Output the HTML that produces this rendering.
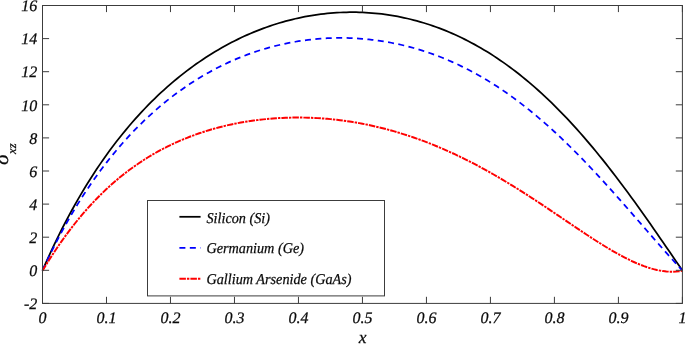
<!DOCTYPE html>
<html><head><meta charset="utf-8"><style>
html,body{margin:0;padding:0;background:#fff;}
svg{display:block}
text{font-family:"Liberation Serif",serif;font-style:italic;font-size:15px;fill:#0a0a0a;stroke:#0a0a0a;stroke-width:0.25px;text-rendering:geometricPrecision}
</style></head><body>
<svg width="685" height="344" viewBox="0 0 685 344">
<rect width="685" height="344" fill="#fff"/>
<g fill="none" stroke-linejoin="round">
<path d="M42.50,270.30 L45.70,263.00 L48.90,255.90 L52.10,248.98 L55.30,242.24 L58.50,235.67 L61.70,229.27 L64.90,223.04 L68.10,216.96 L71.30,211.04 L74.50,205.27 L77.69,199.64 L80.89,194.15 L84.09,188.79 L87.29,183.57 L90.49,178.48 L93.69,173.50 L96.89,168.65 L100.09,163.92 L103.29,159.30 L106.49,154.79 L109.69,150.39 L112.89,146.09 L116.09,141.89 L119.29,137.80 L122.49,133.80 L125.69,129.89 L128.89,126.07 L132.09,122.35 L135.29,118.71 L138.49,115.16 L141.68,111.69 L144.88,108.30 L148.08,104.99 L151.28,101.76 L154.48,98.61 L157.68,95.53 L160.88,92.52 L164.08,89.59 L167.28,86.72 L170.48,83.93 L173.68,81.20 L176.88,78.53 L180.08,75.94 L183.28,73.40 L186.48,70.93 L189.68,68.52 L192.88,66.17 L196.08,63.88 L199.28,61.65 L202.47,59.48 L205.67,57.36 L208.87,55.30 L212.07,53.29 L215.27,51.34 L218.47,49.44 L221.67,47.60 L224.87,45.81 L228.07,44.07 L231.27,42.38 L234.47,40.74 L237.67,39.15 L240.87,37.61 L244.07,36.12 L247.27,34.68 L250.47,33.29 L253.67,31.94 L256.87,30.64 L260.07,29.39 L263.27,28.18 L266.47,27.02 L269.66,25.90 L272.86,24.83 L276.06,23.80 L279.26,22.82 L282.46,21.88 L285.66,20.99 L288.86,20.14 L292.06,19.33 L295.26,18.57 L298.46,17.84 L301.66,17.17 L304.86,16.53 L308.06,15.94 L311.26,15.38 L314.46,14.87 L317.66,14.41 L320.86,13.98 L324.06,13.60 L327.26,13.25 L330.45,12.95 L333.65,12.69 L336.85,12.47 L340.05,12.30 L343.25,12.16 L346.45,12.07 L349.65,12.02 L352.85,12.01 L356.05,12.04 L359.25,12.11 L362.45,12.22 L365.65,12.38 L368.85,12.58 L372.05,12.82 L375.25,13.10 L378.45,13.43 L381.65,13.79 L384.85,14.21 L388.05,14.66 L391.25,15.16 L394.44,15.70 L397.64,16.28 L400.84,16.91 L404.04,17.58 L407.24,18.29 L410.44,19.06 L413.64,19.86 L416.84,20.71 L420.04,21.61 L423.24,22.55 L426.44,23.54 L429.64,24.58 L432.84,25.66 L436.04,26.79 L439.24,27.97 L442.44,29.19 L445.64,30.47 L448.84,31.79 L452.04,33.17 L455.24,34.59 L458.44,36.06 L461.63,37.58 L464.83,39.16 L468.03,40.78 L471.23,42.46 L474.43,44.19 L477.63,45.97 L480.83,47.81 L484.03,49.69 L487.23,51.64 L490.43,53.63 L493.63,55.68 L496.83,57.79 L500.03,59.95 L503.23,62.16 L506.43,64.43 L509.63,66.76 L512.83,69.15 L516.03,71.59 L519.23,74.09 L522.42,76.64 L525.62,79.25 L528.82,81.93 L532.02,84.65 L535.22,87.44 L538.42,90.28 L541.62,93.19 L544.82,96.15 L548.02,99.17 L551.22,102.24 L554.42,105.38 L557.62,108.57 L560.82,111.82 L564.02,115.13 L567.22,118.50 L570.42,121.92 L573.62,125.40 L576.82,128.94 L580.02,132.53 L583.22,136.18 L586.41,139.88 L589.61,143.64 L592.81,147.45 L596.01,151.32 L599.21,155.23 L602.41,159.20 L605.61,163.21 L608.81,167.28 L612.01,171.39 L615.21,175.55 L618.41,179.75 L621.61,184.00 L624.81,188.29 L628.01,192.62 L631.21,196.99 L634.41,201.39 L637.61,205.83 L640.81,210.31 L644.01,214.81 L647.21,219.34 L650.40,223.90 L653.60,228.48 L656.80,233.09 L660.00,237.71 L663.20,242.34 L666.40,246.99 L669.60,251.65 L672.80,256.31 L676.00,260.98 L679.20,265.64 L682.40,270.30" stroke="#000" stroke-width="1.75" transform="translate(0,0.2)"/>
<path d="M42.50,270.30 L45.70,263.39 L48.90,256.68 L52.10,250.15 L55.30,243.80 L58.50,237.63 L61.70,231.63 L64.90,225.79 L68.10,220.11 L71.30,214.58 L74.50,209.20 L77.69,203.95 L80.89,198.84 L84.09,193.87 L87.29,189.02 L90.49,184.30 L93.69,179.69 L96.89,175.21 L100.09,170.83 L103.29,166.56 L106.49,162.40 L109.69,158.35 L112.89,154.39 L116.09,150.53 L119.29,146.77 L122.49,143.09 L125.69,139.51 L128.89,136.01 L132.09,132.60 L135.29,129.28 L138.49,126.03 L141.68,122.87 L144.88,119.78 L148.08,116.77 L151.28,113.83 L154.48,110.97 L157.68,108.17 L160.88,105.45 L164.08,102.80 L167.28,100.21 L170.48,97.69 L173.68,95.23 L176.88,92.84 L180.08,90.51 L183.28,88.24 L186.48,86.03 L189.68,83.89 L192.88,81.80 L196.08,79.76 L199.28,77.79 L202.47,75.87 L205.67,74.00 L208.87,72.19 L212.07,70.44 L215.27,68.73 L218.47,67.08 L221.67,65.48 L224.87,63.93 L228.07,62.43 L231.27,60.98 L234.47,59.58 L237.67,58.23 L240.87,56.92 L244.07,55.67 L247.27,54.45 L250.47,53.29 L253.67,52.17 L256.87,51.09 L260.07,50.06 L263.27,49.07 L266.47,48.13 L269.66,47.23 L272.86,46.37 L276.06,45.56 L279.26,44.79 L282.46,44.06 L285.66,43.37 L288.86,42.72 L292.06,42.11 L295.26,41.54 L298.46,41.01 L301.66,40.53 L304.86,40.08 L308.06,39.67 L311.26,39.30 L314.46,38.97 L317.66,38.68 L320.86,38.43 L324.06,38.21 L327.26,38.03 L330.45,37.90 L333.65,37.80 L336.85,37.74 L340.05,37.71 L343.25,37.73 L346.45,37.78 L349.65,37.87 L352.85,38.00 L356.05,38.16 L359.25,38.37 L362.45,38.61 L365.65,38.89 L368.85,39.21 L372.05,39.57 L375.25,39.97 L378.45,40.40 L381.65,40.88 L384.85,41.39 L388.05,41.94 L391.25,42.54 L394.44,43.17 L397.64,43.84 L400.84,44.55 L404.04,45.31 L407.24,46.10 L410.44,46.94 L413.64,47.81 L416.84,48.73 L420.04,49.69 L423.24,50.69 L426.44,51.74 L429.64,52.83 L432.84,53.96 L436.04,55.13 L439.24,56.35 L442.44,57.61 L445.64,58.92 L448.84,60.27 L452.04,61.67 L455.24,63.11 L458.44,64.60 L461.63,66.14 L464.83,67.72 L468.03,69.35 L471.23,71.03 L474.43,72.75 L477.63,74.52 L480.83,76.34 L484.03,78.21 L487.23,80.12 L490.43,82.09 L493.63,84.10 L496.83,86.16 L500.03,88.27 L503.23,90.43 L506.43,92.63 L509.63,94.89 L512.83,97.20 L516.03,99.55 L519.23,101.95 L522.42,104.41 L525.62,106.91 L528.82,109.46 L532.02,112.05 L535.22,114.70 L538.42,117.39 L541.62,120.13 L544.82,122.91 L548.02,125.74 L551.22,128.62 L554.42,131.54 L557.62,134.51 L560.82,137.52 L564.02,140.57 L567.22,143.66 L570.42,146.80 L573.62,149.98 L576.82,153.19 L580.02,156.44 L583.22,159.73 L586.41,163.06 L589.61,166.41 L592.81,169.81 L596.01,173.23 L599.21,176.68 L602.41,180.16 L605.61,183.67 L608.81,187.21 L612.01,190.76 L615.21,194.34 L618.41,197.94 L621.61,201.55 L624.81,205.18 L628.01,208.82 L631.21,212.48 L634.41,216.14 L637.61,219.81 L640.81,223.48 L644.01,227.15 L647.21,230.82 L650.40,234.49 L653.60,238.15 L656.80,241.80 L660.00,245.44 L663.20,249.06 L666.40,252.67 L669.60,256.25 L672.80,259.81 L676.00,263.34 L679.20,266.84 L682.40,270.30" stroke="#0000ff" stroke-width="1.75" stroke-dasharray="6,4.43" transform="translate(0,0.2)"/>
<path d="M42.50,270.30 L45.70,265.02 L48.90,259.87 L52.10,254.87 L55.30,250.01 L58.50,245.28 L61.70,240.68 L64.90,236.21 L68.10,231.87 L71.30,227.65 L74.50,223.55 L77.69,219.57 L80.89,215.71 L84.09,211.96 L87.29,208.31 L90.49,204.78 L93.69,201.35 L96.89,198.02 L100.09,194.80 L103.29,191.67 L106.49,188.63 L109.69,185.69 L112.89,182.84 L116.09,180.08 L119.29,177.40 L122.49,174.81 L125.69,172.30 L128.89,169.87 L132.09,167.51 L135.29,165.23 L138.49,163.03 L141.68,160.89 L144.88,158.83 L148.08,156.83 L151.28,154.90 L154.48,153.03 L157.68,151.23 L160.88,149.49 L164.08,147.81 L167.28,146.18 L170.48,144.61 L173.68,143.10 L176.88,141.64 L180.08,140.24 L183.28,138.88 L186.48,137.58 L189.68,136.32 L192.88,135.12 L196.08,133.96 L199.28,132.84 L202.47,131.77 L205.67,130.75 L208.87,129.76 L212.07,128.82 L215.27,127.92 L218.47,127.06 L221.67,126.24 L224.87,125.46 L228.07,124.72 L231.27,124.02 L234.47,123.35 L237.67,122.72 L240.87,122.12 L244.07,121.56 L247.27,121.04 L250.47,120.55 L253.67,120.09 L256.87,119.67 L260.07,119.28 L263.27,118.92 L266.47,118.60 L269.66,118.31 L272.86,118.05 L276.06,117.82 L279.26,117.62 L282.46,117.46 L285.66,117.33 L288.86,117.22 L292.06,117.15 L295.26,117.11 L298.46,117.10 L301.66,117.13 L304.86,117.18 L308.06,117.26 L311.26,117.37 L314.46,117.52 L317.66,117.69 L320.86,117.89 L324.06,118.13 L327.26,118.39 L330.45,118.69 L333.65,119.01 L336.85,119.37 L340.05,119.75 L343.25,120.17 L346.45,120.61 L349.65,121.09 L352.85,121.59 L356.05,122.13 L359.25,122.70 L362.45,123.30 L365.65,123.93 L368.85,124.58 L372.05,125.27 L375.25,126.00 L378.45,126.75 L381.65,127.53 L384.85,128.34 L388.05,129.18 L391.25,130.06 L394.44,130.96 L397.64,131.90 L400.84,132.87 L404.04,133.87 L407.24,134.89 L410.44,135.95 L413.64,137.04 L416.84,138.17 L420.04,139.32 L423.24,140.50 L426.44,141.71 L429.64,142.96 L432.84,144.23 L436.04,145.54 L439.24,146.87 L442.44,148.24 L445.64,149.64 L448.84,151.06 L452.04,152.52 L455.24,154.00 L458.44,155.52 L461.63,157.06 L464.83,158.64 L468.03,160.24 L471.23,161.87 L474.43,163.53 L477.63,165.21 L480.83,166.93 L484.03,168.67 L487.23,170.44 L490.43,172.23 L493.63,174.05 L496.83,175.89 L500.03,177.76 L503.23,179.65 L506.43,181.57 L509.63,183.51 L512.83,185.47 L516.03,187.45 L519.23,189.45 L522.42,191.47 L525.62,193.51 L528.82,195.57 L532.02,197.64 L535.22,199.73 L538.42,201.84 L541.62,203.95 L544.82,206.08 L548.02,208.22 L551.22,210.37 L554.42,212.52 L557.62,214.68 L560.82,216.84 L564.02,219.01 L567.22,221.17 L570.42,223.34 L573.62,225.49 L576.82,227.65 L580.02,229.79 L583.22,231.92 L586.41,234.04 L589.61,236.14 L592.81,238.22 L596.01,240.27 L599.21,242.30 L602.41,244.31 L605.61,246.27 L608.81,248.20 L612.01,250.09 L615.21,251.94 L618.41,253.73 L621.61,255.47 L624.81,257.15 L628.01,258.77 L631.21,260.32 L634.41,261.79 L637.61,263.18 L640.81,264.49 L644.01,265.70 L647.21,266.82 L650.40,267.83 L653.60,268.72 L656.80,269.49 L660.00,270.14 L663.20,270.64 L666.40,271.00 L669.60,271.21 L672.80,271.25 L676.00,271.12 L679.20,270.81 L682.40,270.30" stroke="#ff0000" stroke-width="1.95" stroke-dasharray="6.5,1.05,2.4,1.05" transform="translate(0,0.45)"/>
</g>
<g stroke="#3c3c3c" stroke-width="1" fill="none">
<rect x="42.5" y="5.5" width="639.9" height="297.9"/>
<path d="M42.50,303.4 V296.79999999999995"/><path d="M42.50,5.5 V12.1"/><path d="M106.49,303.4 V296.79999999999995"/><path d="M106.49,5.5 V12.1"/><path d="M170.48,303.4 V296.79999999999995"/><path d="M170.48,5.5 V12.1"/><path d="M234.47,303.4 V296.79999999999995"/><path d="M234.47,5.5 V12.1"/><path d="M298.46,303.4 V296.79999999999995"/><path d="M298.46,5.5 V12.1"/><path d="M362.45,303.4 V296.79999999999995"/><path d="M362.45,5.5 V12.1"/><path d="M426.44,303.4 V296.79999999999995"/><path d="M426.44,5.5 V12.1"/><path d="M490.43,303.4 V296.79999999999995"/><path d="M490.43,5.5 V12.1"/><path d="M554.42,303.4 V296.79999999999995"/><path d="M554.42,5.5 V12.1"/><path d="M618.41,303.4 V296.79999999999995"/><path d="M618.41,5.5 V12.1"/><path d="M682.40,303.4 V296.79999999999995"/><path d="M682.40,5.5 V12.1"/><path d="M42.5,303.40 H49.1"/><path d="M682.4,303.40 H675.8"/><path d="M42.5,270.30 H49.1"/><path d="M682.4,270.30 H675.8"/><path d="M42.5,237.20 H49.1"/><path d="M682.4,237.20 H675.8"/><path d="M42.5,204.10 H49.1"/><path d="M682.4,204.10 H675.8"/><path d="M42.5,171.00 H49.1"/><path d="M682.4,171.00 H675.8"/><path d="M42.5,137.90 H49.1"/><path d="M682.4,137.90 H675.8"/><path d="M42.5,104.80 H49.1"/><path d="M682.4,104.80 H675.8"/><path d="M42.5,71.70 H49.1"/><path d="M682.4,71.70 H675.8"/><path d="M42.5,38.60 H49.1"/><path d="M682.4,38.60 H675.8"/><path d="M42.5,5.50 H49.1"/><path d="M682.4,5.50 H675.8"/>
</g>
<rect x="147.5" y="200.5" width="237" height="95.4" fill="#fff" stroke="#3c3c3c" stroke-width="1"/>
<g fill="none">
<path d="M179.4,216.8 H200.6" stroke="#000" stroke-width="1.75"/>
<path d="M179.4,247.8 H200.6" stroke="#0000ff" stroke-width="1.75" stroke-dasharray="6,4.43"/>
<path d="M179.4,278.8 H200.6" stroke="#ff0000" stroke-width="1.95" stroke-dasharray="6.5,1.05,2.4,1.05"/>
</g>
<g style="filter:grayscale(1)"><text x="42.50" y="322.9" text-anchor="middle" style="font-size:16px">0</text><text x="106.49" y="322.9" text-anchor="middle" style="font-size:16px">0.1</text><text x="170.48" y="322.9" text-anchor="middle" style="font-size:16px">0.2</text><text x="234.47" y="322.9" text-anchor="middle" style="font-size:16px">0.3</text><text x="298.46" y="322.9" text-anchor="middle" style="font-size:16px">0.4</text><text x="362.45" y="322.9" text-anchor="middle" style="font-size:16px">0.5</text><text x="426.44" y="322.9" text-anchor="middle" style="font-size:16px">0.6</text><text x="490.43" y="322.9" text-anchor="middle" style="font-size:16px">0.7</text><text x="554.42" y="322.9" text-anchor="middle" style="font-size:16px">0.8</text><text x="618.41" y="322.9" text-anchor="middle" style="font-size:16px">0.9</text><text x="682.40" y="322.9" text-anchor="middle" style="font-size:16px">1</text><text x="37.3" y="309.10" text-anchor="end" style="font-size:16px">-2</text><text x="37.3" y="276.00" text-anchor="end" style="font-size:16px">0</text><text x="37.3" y="242.90" text-anchor="end" style="font-size:16px">2</text><text x="37.3" y="209.80" text-anchor="end" style="font-size:16px">4</text><text x="37.3" y="176.70" text-anchor="end" style="font-size:16px">6</text><text x="37.3" y="143.60" text-anchor="end" style="font-size:16px">8</text><text x="37.3" y="110.50" text-anchor="end" style="font-size:16px">10</text><text x="37.3" y="77.40" text-anchor="end" style="font-size:16px">12</text><text x="37.3" y="44.30" text-anchor="end" style="font-size:16px">14</text><text x="37.3" y="11.20" text-anchor="end" style="font-size:16px">16</text>
<text x="362.6" y="342.9" text-anchor="middle" style="font-size:17.5px">x</text>
<g transform="translate(7.9,165) rotate(-90)"><text transform="scale(1.1,1)" x="0" y="0" style="font-size:20px">σ</text><text x="11.1" y="8.5" style="font-size:12.5px">xz</text></g>
<text transform="translate(206.5,223.0) scale(0.947,1)">Silicon (Si)</text>
<text transform="translate(206.5,253.2) scale(0.947,1)">Germanium (Ge)</text>
<text transform="translate(206.5,283.7) scale(0.947,1)">Gallium Arsenide (GaAs)</text>
</g>
</svg>
</body></html>
